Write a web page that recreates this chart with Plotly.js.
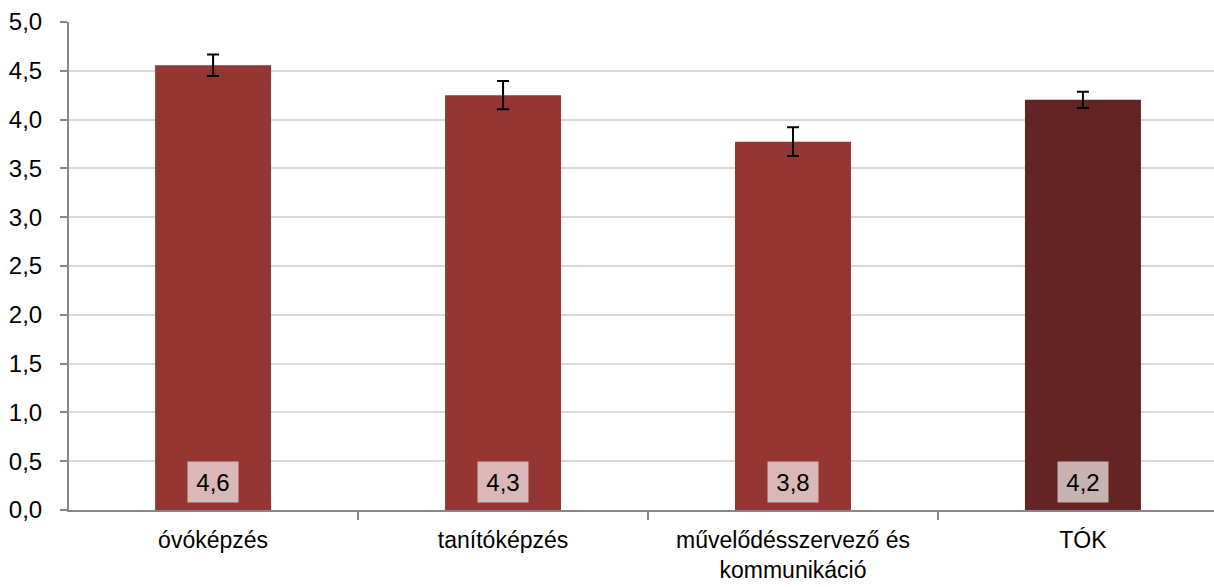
<!DOCTYPE html>
<html>
<head>
<meta charset="utf-8">
<script src="https://cdn.plot.ly/plotly-3.0.1.min.js"></script>
<style>html,body{margin:0;padding:0;background:#fff;}#chart{width:1214px;height:587px;}</style>
</head>
<body>
<div id="chart"></div>
<script>
const categories = ["óvóképzés", "tanítóképzés", "művelődésszervező és<br>kommunikáció", "TÓK"];
const means = [4.556, 4.25, 3.774, 4.203];
const errors = [0.11, 0.145, 0.148, 0.083];
const barColors = ["#943634", "#943634", "#943634", "#632523"];

const trace = {
  type: "bar",
  x: categories,
  y: means,
  width: 0.4,
  marker: {color: barColors},
  error_y: {type: "data", array: errors, visible: true, color: "#000000", thickness: 2, width: 6},
  hoverinfo: "skip"
};

const annotations = categories.map((c, i) => ({
  x: c, y: 0, xref: "x", yref: "y",
  yanchor: "bottom", yshift: 7,
  text: means[i].toFixed(1).replace(".", ","),
  showarrow: false,
  bgcolor: "rgba(255,255,255,0.65)",
  width: 48, height: 38, borderpad: 1,
  font: {family: "Liberation Sans, Arial, sans-serif", size: 24, color: "#000"}
}));

const layout = {
  width: 1214, height: 587,
  margin: {l: 69, r: 0, t: 22, b: 77, pad: 0},
  paper_bgcolor: "#ffffff", plot_bgcolor: "#ffffff",
  separators: ", ",
  showlegend: false,
  font: {family: "Liberation Sans, Arial, sans-serif", size: 24, color: "#000"},
  xaxis: {
    type: "category",
    range: [-0.497, 3.452],
    showline: true, linecolor: "#868686", linewidth: 2,
    ticks: "outside", tickson: "boundaries", ticklen: 8, tickcolor: "#868686", tickwidth: 2,
    showgrid: false, zeroline: false,
    ticklabelstandoff: 8,
    tickfont: {size: 23}
  },
  yaxis: {
    range: [0, 5], dtick: 0.5, tick0: 0, tickformat: ".1f",
    showline: true, linecolor: "#868686", linewidth: 2,
    ticks: "outside", ticklen: 7, tickcolor: "#868686", tickwidth: 2,
    showgrid: true, gridcolor: "#d9d9d9", gridwidth: 2,
    zeroline: false,
    ticklabelstandoff: 13,
    tickfont: {size: 24}
  },
  annotations: annotations
};

Plotly.newPlot("chart", [trace], layout, {displayModeBar: false, staticPlot: true});
</script>
</body>
</html>
